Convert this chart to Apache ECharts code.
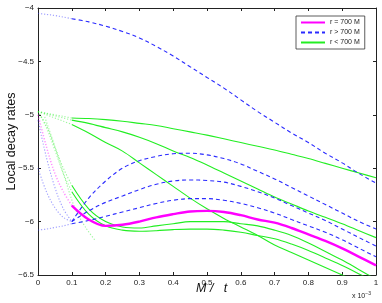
<!DOCTYPE html>
<html><head><meta charset="utf-8">
<script src="https://cdn.jsdelivr.net/npm/echarts@6/dist/echarts.min.js"></script>
<style>html,body{margin:0;padding:0;background:#fff}#c{width:382px;height:303px}</style>
</head><body><div id="c"></div>
<script>
// ---- data (x in units of 1e-3) ----
const xMain = [0.1,0.15,0.2,0.25,0.3,0.35,0.4,0.45,0.5,0.55,0.6,0.65,0.7,0.75,0.8,0.85,0.9,0.95,1.0];
const xEarly = [0,0.025,0.05,0.075,0.1];
const xExtra = [0.02,0.05,0.08,0.11,0.14,0.17];
const xTicks = [0,0.1,0.2,0.3,0.4,0.5,0.6,0.7,0.8,0.9,1];
const yTicks = [-6.5,-6,-5.5,-5,-4.5,-4];

// r = 700 M
const M1 = [-5.85,-5.98,-6.04,-6.03,-6.0,-5.96,-5.93,-5.905,-5.90,-5.91,-5.94,-5.98,-6.01,-6.06,-6.12,-6.18,-6.25,-6.33,-6.41];
// r > 700 M
const B1 = [-4.10,-4.13,-4.17,-4.22,-4.28,-4.36,-4.45,-4.55,-4.65,-4.75,-4.86,-4.97,-5.07,-5.17,-5.26,-5.36,-5.45,-5.55,-5.64];
const B2 = [-6.0,-5.78,-5.62,-5.5,-5.43,-5.39,-5.365,-5.36,-5.375,-5.41,-5.46,-5.53,-5.6,-5.68,-5.76,-5.84,-5.92,-6.0,-6.07];
const B3 = [-6.0,-5.9,-5.82,-5.76,-5.7,-5.65,-5.62,-5.61,-5.615,-5.63,-5.67,-5.72,-5.78,-5.85,-5.92,-5.99,-6.07,-6.15,-6.23];
const B4 = [-6.02,-5.99,-5.95,-5.91,-5.87,-5.83,-5.8,-5.785,-5.785,-5.8,-5.83,-5.87,-5.92,-5.98,-6.04,-6.1,-6.17,-6.25,-6.33];
// r < 700 M
const G1 = [-5.03,-5.035,-5.045,-5.06,-5.08,-5.10,-5.13,-5.16,-5.19,-5.225,-5.26,-5.295,-5.33,-5.37,-5.41,-5.455,-5.5,-5.545,-5.59];
const G2 = [-5.05,-5.08,-5.12,-5.16,-5.21,-5.27,-5.34,-5.40,-5.47,-5.545,-5.62,-5.695,-5.77,-5.835,-5.90,-5.96,-6.02,-6.085,-6.15];
const G3 = [-5.09,-5.17,-5.26,-5.34,-5.45,-5.56,-5.67,-5.78,-5.88,-5.97,-6.05,-6.13,-6.22,-6.29,-6.36,-6.43,-6.5,-6.57,-6.64];
const G4 = [-5.66,-5.88,-6.0,-6.05,-6.06,-6.04,-6.02,-6.0,-6.0,-6.0,-6.02,-6.04,-6.08,-6.13,-6.2,-6.28,-6.36,-6.45,-6.54];
const G5 = [-5.72,-5.93,-6.04,-6.08,-6.09,-6.085,-6.075,-6.07,-6.07,-6.08,-6.1,-6.13,-6.16,-6.21,-6.27,-6.34,-6.41,-6.49,-6.57];

// early-time (dotted) parts
const B1e = [-4.05,-4.06,-4.07,-4.085,-4.10];
const B2e = [-5.05,-5.4,-5.68,-5.88,-6.0];
const B3e = [-5.5,-5.72,-5.87,-5.96,-6.0];
const B4e = [-6.08,-6.07,-6.055,-6.04,-6.02];
const M1e = [-5.0,-5.3,-5.55,-5.72,-5.85];
const G1e = [-4.97,-4.985,-5.0,-5.015,-5.03];
const G2e = [-4.97,-4.99,-5.01,-5.03,-5.05];
const G3e = [-4.97,-5.0,-5.03,-5.06,-5.09];
const G4e = [-4.97,-5.1,-5.3,-5.5,-5.66];
const G5e = [-4.97,-5.12,-5.33,-5.55,-5.72];
const GXe = [-5.02,-5.3,-5.6,-5.88,-6.05,-6.18];

const names = {m:'r = 700 M', b:'r > 700 M', g:'r < 700 M'};
const colors = {m:'#ff00ff', b:'#2a2aff', g:'#22ee22'};

function pairs(xs, ys){ return xs.map((x,i)=>[x, ys[i]]); }
function solid(kind, ys){
  const ls = {color:colors[kind], width: kind==='m'?2.4:1.1, type: kind==='b'?[4,3]:'solid'};
  return {type:'line', name:names[kind], data:pairs(xMain, ys), symbol:'none', smooth:0.35,
          lineStyle:ls, itemStyle:{color:colors[kind]}, z: kind==='m'?4:3, clip:true, silent:true};
}
function dotted(kind, xs, ys){
  return {type:'line', name:'early '+kind, data:pairs(xs, ys), symbol:'none', smooth:0.35,
          lineStyle:{color:colors[kind], width: kind==='m'?1.5:1.1, type:[1.2,1.8], opacity:0.45},
          z:2, clip:true, silent:true};
}

const series = [
  dotted('b', xEarly, B1e), dotted('b', xEarly, B2e), dotted('b', xEarly, B3e), dotted('b', xEarly, B4e),
  dotted('m', xEarly, M1e),
  dotted('g', xEarly, G1e), dotted('g', xEarly, G2e), dotted('g', xEarly, G3e),
  dotted('g', xEarly, G4e), dotted('g', xEarly, G5e), dotted('g', xExtra, GXe),
  solid('g', G1), solid('g', G2), solid('g', G3), solid('g', G4), solid('g', G5),
  solid('b', B1), solid('b', B2), solid('b', B3), solid('b', B4),
  solid('m', M1)
];

const FONT = 'Liberation Sans, Arial, sans-serif';
const axisCommon = {
  min: 0, max: 1, interval: 0.1, type:'value',
  axisLine:{show:true, onZero:false, lineStyle:{color:'#222', width:1}},
  axisTick:{show:true, inside:true, length:3, lineStyle:{color:'#222'}},
  splitLine:{show:false}
};
const yCommon = {
  min: yTicks[0], max: yTicks[yTicks.length-1], interval: 0.5, type:'value',
  axisLine:{show:true, onZero:false, lineStyle:{color:'#222', width:1}},
  axisTick:{show:true, inside:true, length:3, lineStyle:{color:'#222'}},
  splitLine:{show:false}
};

const chart = echarts.init(document.getElementById('c'), null, {renderer:'canvas'});
chart.setOption({
  animation:false,
  backgroundColor:'#fff',
  grid:{left:38, right:6, top:8, bottom:28, containLabel:false, outerBoundsMode:'none'},
  xAxis:[
    Object.assign({}, axisCommon, {position:'bottom',
      axisLabel:{show:true, fontSize:8, color:'#222', fontFamily:FONT, margin:4,
        formatter:v=> (xTicks.indexOf(Math.round(v*10)/10)>=0 ? (v===0?'0':(Math.abs(v-1)<1e-9?'1':v.toFixed(1))) : '')}}),
    Object.assign({}, axisCommon, {position:'top', axisLabel:{show:false}})
  ],
  yAxis:[
    Object.assign({}, yCommon, {position:'left',
      name:'Local decay rates', nameLocation:'middle', nameGap:20, nameMoveOverlap:false,
      nameTextStyle:{fontSize:12.5, color:'#111', fontFamily:FONT},
      axisLabel:{show:true, fontSize:8, color:'#222', fontFamily:FONT, margin:4,
        formatter:v=> (v<0?'\u2212':'') + Math.abs(v)}}),
    Object.assign({}, yCommon, {position:'right', axisLabel:{show:false}})
  ],
  legend:{
    data:[names.m, names.b, names.g],
    orient:'vertical', left:296, top:16,
    itemWidth:24, itemHeight:8, itemGap:3,
    padding:[3,5,3,4],
    backgroundColor:'#fff', borderColor:'#333', borderWidth:0.8,
    itemStyle:{opacity:0},
    textStyle:{fontSize:7, color:'#222', fontFamily:FONT},
    selectedMode:false
  },
  graphic:[
    {type:'text', left:196, top:282, style:{text:'M /   t', font:'italic 12.5px '+FONT, fill:'#111'}},
    {type:'text', left:352, top:291, style:{text:'x 10{s|\u22123}', font:'7px '+FONT, fill:'#222',
      rich:{s:{fontSize:5, verticalAlign:'top', padding:[0,0,5,0], fontFamily:FONT}}}}
  ],
  series: series
});
</script>
</body></html>
